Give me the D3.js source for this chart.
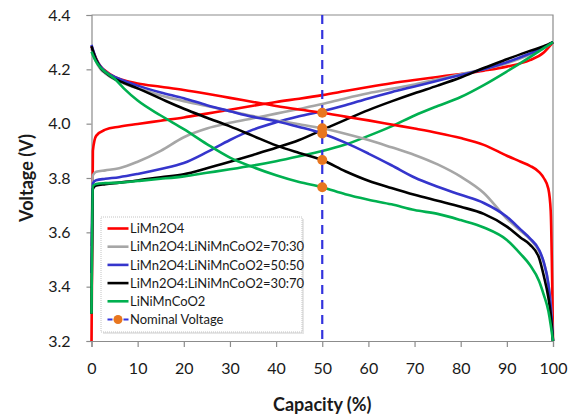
<!DOCTYPE html>
<html>
<head>
<meta charset="utf-8">
<script src="https://cdn.jsdelivr.net/npm/d3@7"></script>
<style>
  html, body { margin: 0; padding: 0; background: #fff; }
  svg { display: block; font-family: Lato, "Open Sans", sans-serif; }
</style>
</head>
<body>
<svg id="chart" width="575" height="418"></svg>
<script>
// ---------- data ----------
const seriesNames = [
  "LiMn2O4",
  "LiMn2O4:LiNiMnCoO2=70:30",
  "LiMn2O4:LiNiMnCoO2=50:50",
  "LiMn2O4:LiNiMnCoO2=30:70",
  "LiNiMnCoO2"
];
const nominalName = "Nominal Voltage";

const chargeCapacity = [0, 0.3, 1, 3, 6, 10, 15, 20, 25, 30, 35, 40, 45, 50, 55, 60, 65, 70, 75, 80, 85, 90, 95, 98, 100];
const chargeRed   = [3.20, 3.90, 3.955, 3.978, 3.989, 3.999, 4.011, 4.023, 4.037, 4.051, 4.066, 4.080, 4.092, 4.105, 4.120, 4.135, 4.149, 4.161, 4.172, 4.183, 4.195, 4.210, 4.234, 4.262, 4.300];
const chargeGray  = [3.55, 3.81, 3.823, 3.828, 3.836, 3.860, 3.900, 3.950, 3.982, 4.003, 4.020, 4.037, 4.054, 4.072, 4.093, 4.112, 4.128, 4.144, 4.163, 4.182, 4.200, 4.222, 4.254, 4.278, 4.300];
const chargeBlue  = [3.45, 3.78, 3.792, 3.797, 3.803, 3.815, 3.833, 3.855, 3.895, 3.940, 3.978, 4.005, 4.027, 4.046, 4.068, 4.093, 4.116, 4.137, 4.158, 4.179, 4.200, 4.226, 4.258, 4.280, 4.300];
const chargeBlack = [3.30, 3.76, 3.772, 3.777, 3.783, 3.791, 3.803, 3.814, 3.836, 3.860, 3.885, 3.911, 3.940, 3.977, 4.014, 4.050, 4.082, 4.112, 4.140, 4.170, 4.205, 4.237, 4.268, 4.285, 4.300];
const chargeGreen = [3.30, 3.77, 3.778, 3.781, 3.783, 3.789, 3.797, 3.806, 3.819, 3.832, 3.846, 3.862, 3.880, 3.899, 3.923, 3.955, 3.990, 4.030, 4.065, 4.098, 4.142, 4.192, 4.245, 4.278, 4.300];

const dischargeCapacity = [0, 0.5, 1, 2, 3, 5, 7, 10, 15, 20, 25, 30, 35, 40, 45, 50, 55, 60, 65, 70, 75, 80, 85, 90, 93, 95, 97, 98, 99, 99.5, 100];
const dischargeRed   = [4.285, 4.26, 4.24, 4.21, 4.195, 4.172, 4.160, 4.148, 4.136, 4.124, 4.110, 4.095, 4.080, 4.065, 4.052, 4.040, 4.026, 4.012, 3.997, 3.982, 3.966, 3.947, 3.922, 3.882, 3.860, 3.845, 3.822, 3.800, 3.760, 3.680, 3.200];
const dischargeGray  = [4.275, 4.25, 4.228, 4.20, 4.185, 4.163, 4.148, 4.130, 4.104, 4.083, 4.065, 4.046, 4.028, 4.012, 3.998, 3.983, 3.963, 3.940, 3.913, 3.885, 3.850, 3.805, 3.745, 3.650, 3.605, 3.575, 3.530, 3.490, 3.410, 3.340, 3.200];
const dischargeBlue  = [4.29, 4.262, 4.238, 4.21, 4.192, 4.172, 4.158, 4.140, 4.115, 4.094, 4.068, 4.046, 4.025, 4.009, 3.988, 3.964, 3.930, 3.890, 3.847, 3.802, 3.768, 3.738, 3.708, 3.657, 3.610, 3.578, 3.535, 3.490, 3.410, 3.330, 3.200];
const dischargeBlack = [4.285, 4.258, 4.235, 4.205, 4.188, 4.165, 4.150, 4.130, 4.092, 4.055, 4.022, 3.990, 3.955, 3.920, 3.892, 3.866, 3.825, 3.790, 3.763, 3.738, 3.716, 3.694, 3.668, 3.621, 3.580, 3.555, 3.505, 3.440, 3.360, 3.300, 3.200];
const dischargeGreen = [4.265, 4.245, 4.228, 4.205, 4.19, 4.165, 4.130, 4.085, 4.030, 3.980, 3.925, 3.875, 3.840, 3.810, 3.785, 3.766, 3.740, 3.720, 3.703, 3.682, 3.668, 3.645, 3.618, 3.572, 3.520, 3.480, 3.420, 3.370, 3.310, 3.260, 3.200];

const nominalCapacity = 50;
const nominalVoltages = [4.040, 3.983, 3.964, 3.866, 3.766];

const xTicks = [0, 10, 20, 30, 40, 50, 60, 70, 80, 90, 100];
const yTicks = [3.2, 3.4, 3.6, 3.8, 4.0, 4.2, 4.4];

const colors = ["#ff0000", "#a6a6a6", "#3535cc", "#000000", "#00b050"];
const nominalLineColor = "#3333dd";
const nominalDotColor = "#e8761f";

// ---------- layout ----------
const svg = d3.select("#chart");
const x = d3.scaleLinear().domain([0, 100]).range([91.5, 553]);
const y = d3.scaleLinear().domain([3.2, 4.4]).range([341, 15]);
const axisColor = "#8c8c8c";

// plot frame (top and right)
svg.append("path")
  .attr("d", `M${x(0)},${y(4.4)}H${x(100)}V${y(3.2)}`)
  .attr("fill", "none").attr("stroke", axisColor).attr("stroke-width", 1.2);

// axes
const xAxis = d3.axisBottom(x).tickValues(xTicks).tickFormat(d3.format("d")).tickSize(6).tickPadding(16);
const yAxis = d3.axisLeft(y).tickValues(yTicks).tickFormat(d3.format(".1f")).tickSize(5).tickPadding(16);

const gx = svg.append("g").attr("transform", `translate(0,${y(3.2)})`).call(xAxis);
const gy = svg.append("g").attr("transform", `translate(${x(0)},0)`).call(yAxis);
[gx, gy].forEach(g => {
  g.select(".domain").attr("stroke", axisColor).attr("stroke-width", 1.2);
  g.selectAll(".tick line").attr("stroke", axisColor).attr("stroke-width", 1.2);
  g.selectAll(".tick text").attr("fill", "#1a1a1a").style("font-size", "16px").style("font-family", "Lato, sans-serif");
});

// titles
svg.append("text").attr("x", (x(0) + x(100)) / 2).attr("y", 411)
  .attr("text-anchor", "middle").style("font-size", "18px").style("font-weight", "bold")
  .attr("fill", "#1a1a1a").text("Capacity (%)");
svg.append("text").attr("transform", `translate(33,178) rotate(-90)`)
  .attr("text-anchor", "middle").style("font-size", "18px").style("font-weight", "bold")
  .attr("fill", "#1a1a1a").text("Voltage (V)");

// ---------- series ----------
const line = d3.line().x(d => x(d[0])).y(d => y(d[1])).curve(d3.curveMonotoneX);
const charges = [chargeRed, chargeGray, chargeBlue, chargeBlack, chargeGreen];
const discharges = [dischargeRed, dischargeGray, dischargeBlue, dischargeBlack, dischargeGreen];

const plot = svg.append("g");
charges.forEach((vals, i) => {
  plot.append("path")
    .datum(chargeCapacity.map((c, j) => [c, vals[j]]))
    .attr("d", line).attr("fill", "none")
    .attr("stroke", colors[i]).attr("stroke-width", 2.6)
    .attr("stroke-linejoin", "round");
});
discharges.forEach((vals, i) => {
  plot.append("path")
    .datum(dischargeCapacity.map((c, j) => [c, vals[j]]))
    .attr("d", line).attr("fill", "none")
    .attr("stroke", colors[i]).attr("stroke-width", 2.6)
    .attr("stroke-linejoin", "round");
});

// nominal voltage line + points
plot.append("line")
  .attr("x1", x(nominalCapacity)).attr("x2", x(nominalCapacity))
  .attr("y1", y(4.4)).attr("y2", y(3.2))
  .attr("stroke", nominalLineColor).attr("stroke-width", 2.2)
  .attr("stroke-dasharray", "9,6");
plot.selectAll("circle.nom").data(nominalVoltages).enter().append("circle")
  .attr("class", "nom")
  .attr("cx", x(nominalCapacity)).attr("cy", d => y(d)).attr("r", 5)
  .attr("fill", nominalDotColor);

// ---------- legend ----------
const lg = svg.append("g");
lg.append("rect").attr("x", 103).attr("y", 219).attr("width", 201).attr("height", 115)
  .attr("fill", "#e6e6e6");
lg.append("rect").attr("x", 101).attr("y", 217).attr("width", 201).attr("height", 115)
  .attr("fill", "#fff").attr("stroke", "#c4c4c4").attr("stroke-width", 1)
  .attr("stroke-dasharray", "1,1");
const rowY = i => 228.5 + i * 18.2;
seriesNames.forEach((name, i) => {
  lg.append("line").attr("x1", 107.5).attr("x2", 128.5).attr("y1", rowY(i)).attr("y2", rowY(i))
    .attr("stroke", colors[i]).attr("stroke-width", 2.6);
  lg.append("text").attr("x", 130).attr("y", rowY(i) + 4.7)
    .style("font-size", "13px").attr("fill", "#1a1a1a").text(name);
});
{
  const i = seriesNames.length;
  lg.append("line").attr("x1", 107.5).attr("x2", 128.5).attr("y1", rowY(i)).attr("y2", rowY(i))
    .attr("stroke", nominalLineColor).attr("stroke-width", 2.2).attr("stroke-dasharray", "5,3");
  lg.append("circle").attr("cx", 118).attr("cy", rowY(i)).attr("r", 4.5).attr("fill", nominalDotColor);
  lg.append("text").attr("x", 130).attr("y", rowY(i) + 4.7)
    .style("font-size", "13px").attr("fill", "#1a1a1a").text(nominalName);
}
</script>
</body>
</html>
